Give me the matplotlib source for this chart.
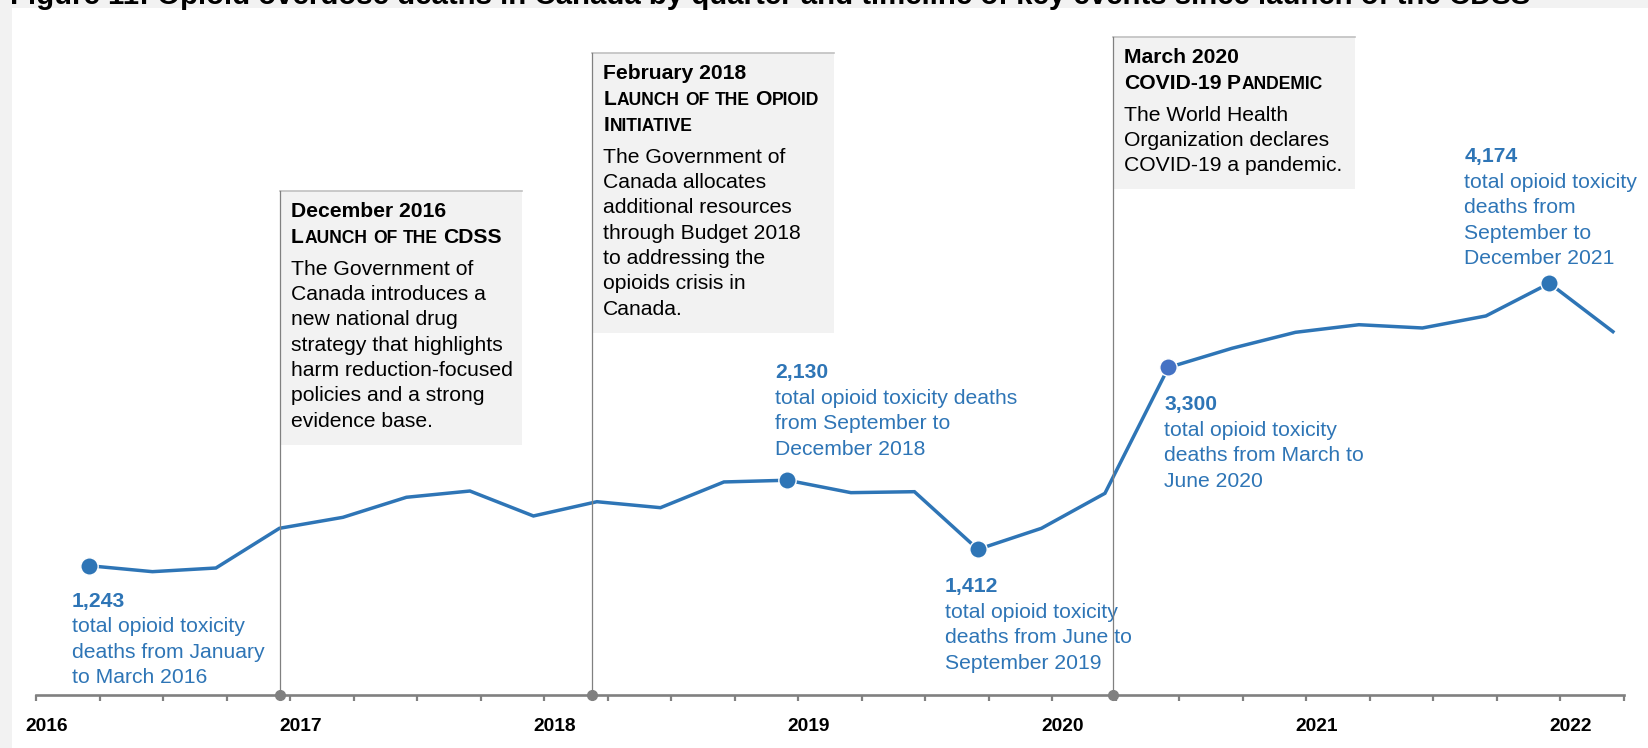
import matplotlib
matplotlib.use("Agg")
import numpy as np
import matplotlib.pyplot as plt
from matplotlib.patches import Rectangle

plt.rcParams['font.family'] = ['Liberation Sans', 'DejaVu Sans']

# quarterly opioid toxicity deaths, Jan-Mar 2016 .. Jan-Mar 2022
quarters = ['2016Q1', '2016Q2', '2016Q3', '2016Q4', '2017Q1', '2017Q2', '2017Q3', '2017Q4',
            '2018Q1', '2018Q2', '2018Q3', '2018Q4', '2019Q1', '2019Q2', '2019Q3', '2019Q4',
            '2020Q1', '2020Q2', '2020Q3', '2020Q4', '2021Q1', '2021Q2', '2021Q3', '2021Q4',
            '2022Q1']
deaths = [1243, 1181, 1219, 1631, 1745, 1953, 2018, 1759,
          1907, 1845, 2112, 2130, 2001, 2011, 1412, 1631,
          1994, 3300, 3499, 3665, 3744, 3710, 3835, 4174,
          3672]

years = [2016, 2017, 2018, 2019, 2020, 2021, 2022]

# highlighted quarters and their captions
hl_index = [0, 11, 14, 17, 23]
hl_text = ["total opioid toxicity\ndeaths from January\nto March 2016",
           "total opioid toxicity deaths\nfrom September to\nDecember 2018",
           "total opioid toxicity\ndeaths from June to\nSeptember 2019",
           "total opioid toxicity\ndeaths from March to\nJune 2020",
           "total opioid toxicity\ndeaths from\nSeptember to\nDecember 2021"]
hl_offset = [(-17, 41), (-12, -102), (-33, 43), (-4, 43), (-85, -121)]   # px, y down
hl_color = ['#2E75B6', '#2E75B6', '#2E75B6', '#4472C4', '#2E75B6']

# key events (decimal year of the marker line)
ev_date = [2016.96, 2018.19, 2020.24]
ev_head = ["December 2016", "February 2018", "March 2020"]
ev_caps = [["Launch of the CDSS"],
           ["Launch of the Opioid", "Initiative"],
           ["COVID-19 Pandemic"]]
ev_body = [["The Government of", "Canada introduces a", "new national drug",
            "strategy that highlights", "harm reduction-focused",
            "policies and a strong", "evidence base."],
           ["The Government of", "Canada allocates", "additional resources",
            "through Budget 2018", "to addressing the", "opioids crisis in",
            "Canada."],
           ["The World Health", "Organization declares", "COVID-19 a pandemic."]]
ev_top = [191, 53, 37]

title = ("Figure 11: Opioid overdose deaths in Canada by quarter and timeline "
         "of key events since launch of the CDSS")

BLUE = '#2E75B6'
GRAY = '#808080'
W, H = 1648, 748
AXIS_Y = 695

fig = plt.figure(figsize=(W / 100, H / 100), dpi=100, facecolor='#f2f2f2')
fig.add_artist(Rectangle((12 / W, 0), 1, (H - 8) / H, transform=fig.transFigure,
                         facecolor='white', edgecolor='none', zorder=-1))

# data axes: bottom spine is the timeline
ax = fig.add_axes([0, (H - AXIS_Y) / H, 1, AXIS_Y / H])
ax.set_facecolor('none')
ax.set_xlim(2016 - 36 / 254, 2016 + (W - 36) / 254)
ax.set_ylim(-99, 7114)

qx = [int(q[:4]) + (int(q[-1]) - 1) * 0.25 + 2.5 / 12 for q in quarters]
ax.plot(qx, deaths, color=BLUE, lw=2.5, solid_joinstyle='miter', zorder=2)

for i, txt, (dx, dy), c in zip(hl_index, hl_text, hl_offset, hl_color):
    ax.plot(qx[i], deaths[i], 'o', ms=12.5, color=c, mec='white', mew=1, zorder=3)
    ax.annotate(f"{deaths[i]:,}", xy=(qx[i], deaths[i]), xytext=(dx, -dy),
                textcoords='offset pixels', ha='left', va='baseline',
                fontsize=15.2, fontweight='bold', color=BLUE)
    for k, line in enumerate(txt.split('\n')):
        ax.annotate(line, xy=(qx[i], deaths[i]), xytext=(dx, -dy - 25.5 * (k + 1)),
                    textcoords='offset pixels', ha='left', va='baseline',
                    fontsize=15.2, color=BLUE)

for s in ['left', 'right', 'top']:
    ax.spines[s].set_visible(False)
ax.spines['bottom'].set_bounds(2016, 2022.25)
ax.spines['bottom'].set_color(GRAY)
ax.spines['bottom'].set_linewidth(1.9)
ax.set_yticks([])
ax.set_xticks(np.arange(2016, 2022.26, 0.25))
ax.set_xticks([y + 0.5 / 12 for y in years], minor=True)
ax.set_xticklabels([], minor=False)
ax.set_xticklabels([str(y) for y in years], minor=True, fontsize=13.8, fontweight='bold')
ax.tick_params(which='major', direction='out', length=4, width=1.6, color=GRAY)
ax.tick_params(which='minor', length=0, pad=16.5)

# layout overlay in pixel units (y down)
lay = fig.add_axes([0, 0, 1, 1], zorder=3)
lay.set_xlim(0, W)
lay.set_ylim(H, 0)
lay.axis('off')
lay.patch.set_alpha(0)

renderer = fig.canvas.get_renderer()


def smallcaps(x, y, s, size, ratio=0.83):
    for w, word in enumerate(s.split(' ')):
        if w:
            x += 0.278 * size * ratio * 100 / 72
        runs = []
        for ch in word:
            big = not ch.islower()
            if runs and runs[-1][1] == big:
                runs[-1][0] += ch
            else:
                runs.append([ch, big])
        for txt, big in runs:
            t = lay.text(x, y, txt.upper(), fontsize=size if big else size * ratio,
                         fontweight='bold', ha='left', va='baseline', color='black')
            x += t.get_window_extent(renderer).width + 0.6


for date, head, caps, body, top in zip(ev_date, ev_head, ev_caps, ev_body, ev_top):
    ex = ax.transData.transform((date, 0))[0]
    y = top + 25.5
    lay.text(ex + 11, y, head, fontsize=15.2, fontweight='bold', ha='left', va='baseline')
    for line in caps:
        y += 26
        smallcaps(ex + 11, y, line, 15.2)
    y += 7
    for line in body:
        y += 25.3
        lay.text(ex + 11, y, line, fontsize=15.2, ha='left', va='baseline')
    bottom = y + 18
    lay.add_patch(Rectangle((ex, top), 242, bottom - top, facecolor='#f2f2f2',
                            edgecolor='none', zorder=0))
    lay.plot([ex, ex + 242], [top, top], color='#c0c0c0', lw=1.2, zorder=1)
    lay.plot([ex, ex], [top, AXIS_Y], color=GRAY, lw=0.9, zorder=1)
    lay.plot(ex, AXIS_Y, 'o', ms=7, color=GRAY, zorder=4)

t = fig.text(10 / W, 1 - 4.5 / H, title, fontsize=20, fontweight='bold',
             family=['Liberation Sans Narrow', 'Liberation Sans'],
             ha='left', va='baseline')
t.set_fontsize(20 * 1517 / t.get_window_extent(renderer).width)

fig.savefig('out.png', dpi=100, facecolor=fig.get_facecolor())
